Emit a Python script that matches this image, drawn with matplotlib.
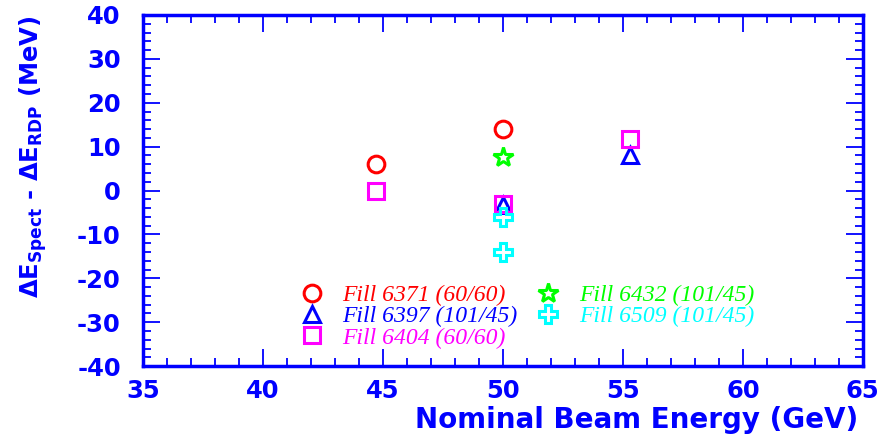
import matplotlib
matplotlib.use("Agg")
import matplotlib.pyplot as plt
from matplotlib.ticker import MultipleLocator

# energy offsets per fill (spectrometer minus RDP), MeV
fills = ["Fill 6371 (60/60)", "Fill 6397 (101/45)", "Fill 6404 (60/60)",
         "Fill 6432 (101/45)", "Fill 6509 (101/45)"]
fill_energy = [[44.7, 50.0], [50.0, 55.3], [44.7, 50.0, 55.3], [50.0], [50.0, 50.0]]
fill_delta = [[6.0, 14.0], [-3.3, 8.0], [0.0, -3.0, 11.7], [7.7], [-6.0, -14.0]]
fill_colors = ["#ff0000", "#0000ff", "#ff00ff", "#00ff00", "#00ffff"]
fill_markers = ["o", "^", "s", "*", "P"]
fill_msize = [12, 12, 12, 15, 13]

BLUE = "#0000ff"
AXFONT = "DejaVu Sans"

plt.rcParams["axes.unicode_minus"] = False
plt.rcParams["mathtext.fontset"] = "custom"
plt.rcParams["mathtext.rm"] = "DejaVu Sans:bold"
plt.rcParams["mathtext.it"] = "DejaVu Sans:bold"
plt.rcParams["mathtext.bf"] = "DejaVu Sans:bold"

fig = plt.figure(figsize=(8.85, 4.4), dpi=100)
ax = fig.add_axes([0.1616, 0.168, 0.8134, 0.798])

handles = []
for name, xs, ys, c, m, ms in zip(fills, fill_energy, fill_delta,
                                  fill_colors, fill_markers, fill_msize):
    h, = ax.plot(xs, ys, ls="none", marker=m, ms=ms, mfc="none", mec=c,
                 mew=2.2, label=name)
    handles.append(h)

ax.set_xlim(35, 65)
ax.set_ylim(-40, 40)
ax.xaxis.set_major_locator(MultipleLocator(5))
ax.xaxis.set_minor_locator(MultipleLocator(1))
ax.yaxis.set_major_locator(MultipleLocator(10))
ax.yaxis.set_minor_locator(MultipleLocator(2))

for sp in ax.spines.values():
    sp.set_color(BLUE)
    sp.set_linewidth(2.5)
ax.tick_params(which="both", direction="in", top=True, right=True,
               color=BLUE, width=1.3, labelcolor=BLUE)
ax.tick_params(which="major", length=12, labelsize=17.5)
ax.tick_params(which="minor", length=6)
ax.tick_params(axis="x", which="major", pad=9)
ax.tick_params(axis="y", which="major", pad=16)
for lab in ax.get_xticklabels() + ax.get_yticklabels():
    lab.set_fontfamily(AXFONT)
    lab.set_fontweight("bold")

ax.set_xlabel("Nominal Beam Energy (GeV)", fontsize=20, fontweight="bold",
              color=BLUE, family=AXFONT)
ax.xaxis.set_label_coords(0.993, -0.115)
ax.xaxis.label.set_horizontalalignment("right")
ax.set_ylabel(r"$\Delta E_{Spect}$ - $\Delta E_{RDP}$ (MeV)", fontsize=17.5,
              fontweight="bold", color=BLUE, family=AXFONT)
ax.yaxis.set_label_coords(-0.13, 0.595)

leg = ax.legend(handles=handles, ncol=2, frameon=False,
                loc="upper left", bbox_to_anchor=(0.205, 0.258),
                prop={"family": "Liberation Serif", "style": "italic", "size": 17},
                handlelength=1.0, handletextpad=0.8, columnspacing=0.8,
                labelspacing=-0.02, borderaxespad=0)
for txt, c in zip(leg.get_texts(), fill_colors):
    txt.set_color(c)

fig.savefig("out.png", dpi=100)
